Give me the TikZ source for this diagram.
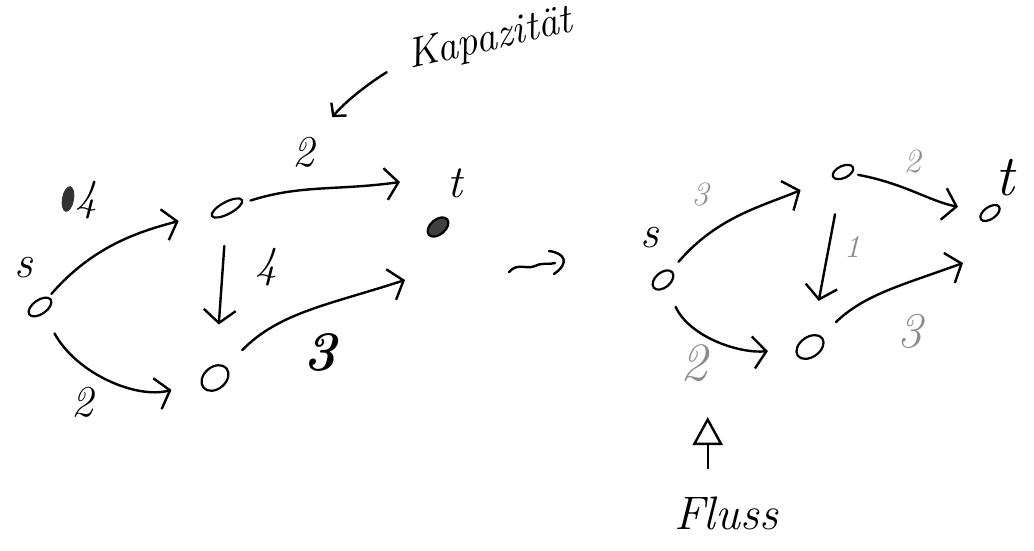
\documentclass[tikz,border=0pt]{standalone}
\usetikzlibrary{arrows.meta,shapes.geometric}
\begin{document}
\begin{tikzpicture}[x=1pt,y=1pt,
  ink/.style={line width=2.4pt, line cap=round, line join=round},
  vertex/.style={draw, ellipse, line width=2.2pt, inner sep=0pt},
  edge/.style={ink, -{Straight Barb[length=13pt,width=32pt]}},
  lbl/.style={inner sep=0pt, font=\fontsize{#1}{#1}\selectfont\itshape},
  flowlbl/.style={lbl=#1, text=black!45}
]
\useasboundingbox (0,0) rectangle (1034,-551);

% ---------- network with capacities ----------
\node[vertex, minimum width=26, minimum height=14, rotate=35] (s1) at (40,-307) {};
\node[vertex, minimum width=34, minimum height=12, rotate=28] (a1) at (227,-208) {};
\node[vertex, minimum width=30, minimum height=22, rotate=40] (b1) at (215,-378) {};
\node[vertex, fill=black!75, minimum width=24, minimum height=15, rotate=40] (t1) at (438,-227) {};

\node[lbl=46] (s1l) at (24,-268) {s};
\node[lbl=46] (t1l) at (455,-183) {t};

\fill[black!80, rotate around={-10:(68,-199)}] (68,-199) ellipse [x radius=6, y radius=13];
\node[lbl=44] (c1) at (86,-200) {4};
\node[lbl=44] (c2) at (303,-152) {2};
\node[lbl=44] (c3) at (266,-267) {4};
\node[lbl=44] (c4) at (82,-402) {2};
\node[lbl=56, font=\fontsize{56}{56}\selectfont\bfseries\itshape] (c5) at (320,-352) {3};

\coordinate (t1top) at ([shift={(-38,45)}]t1.center);
\coordinate (t1low) at ([shift={(-33,-53)}]t1.center);

\draw[edge, shorten <=4pt, shorten >=34pt] (s1) to[out=45,in=190] (a1);
\draw[edge, shorten <=8pt] (a1) to[out=12,in=188] (t1top);
\draw[edge, shorten <=30pt, shorten >=40pt] (a1) -- (b1);
\draw[edge, shorten <=22pt, shorten >=30pt] (s1) to[out=-65,in=188] (b1);
\draw[edge, shorten <=23pt] (b1) to[out=40,in=198] (t1low);

% capacity annotation
\node[lbl=42, rotate=13] (kap) at (490,-40) {Kapazität};
\draw[ink, -{Straight Barb[length=9pt,width=20pt]}, shorten <=25pt, shorten >=28pt]
  (kap.west) to[out=212,in=50] (c2);

% ---------- transition ----------
\draw[ink] (509,-272) .. controls (518,-262) and (526,-270) .. (535,-266)
           .. controls (543,-262) and (549,-265) .. (555,-263);
\draw[ink] (549,-251) .. controls (565,-253) and (570,-263) .. (554,-274);

% ---------- network with a flow ----------
\node[vertex, minimum width=24, minimum height=15, rotate=40] (s2) at (663,-280) {};
\node[vertex, minimum width=22, minimum height=12, rotate=25] (a2) at (843,-172) {};
\node[vertex, minimum width=30, minimum height=20, rotate=35] (b2) at (810,-347) {};
\node[vertex, minimum width=22, minimum height=12, rotate=35] (t2) at (990,-213) {};

\node[lbl=46] (s2l) at (650,-238) {s};
\node[lbl=58] (t2l) at (1005,-178) {t};

\node[flowlbl=34] (f1) at (700,-195) {3};
\node[flowlbl=34] (f2) at (912,-162) {2};
\node[flowlbl=32] (f3) at (852,-247) {1};
\node[flowlbl=54] (f4) at (694,-363) {2};
\node[flowlbl=50] (f5) at (910,-331) {3};

\coordinate (t2low) at ([shift={(-27,-50)}]t2.center);

\draw[edge, shorten <=11pt, shorten >=34pt] (s2) to[out=45,in=200] (a2);
\draw[edge, shorten <=6pt, shorten >=24pt] (a2) to[out=-15,in=163] (t2);
\draw[edge, shorten <=35pt, shorten >=34pt] (a2) -- (b2);
\draw[edge, shorten <=21pt, shorten >=28pt] (s2) to[out=-70,in=178] (b2);
\draw[edge, shorten <=20pt] (b2) to[out=38,in=200] (t2low);

% flow annotation
\node[lbl=47] (fluss) at (726,-513) {Fluss};
\draw[ink, -{Triangle[open,length=28pt,width=30pt]}, shorten <=28pt, shorten >=54pt]
  (f4.east |- fluss.north) -- (f4.east);
\end{tikzpicture}
\end{document}
